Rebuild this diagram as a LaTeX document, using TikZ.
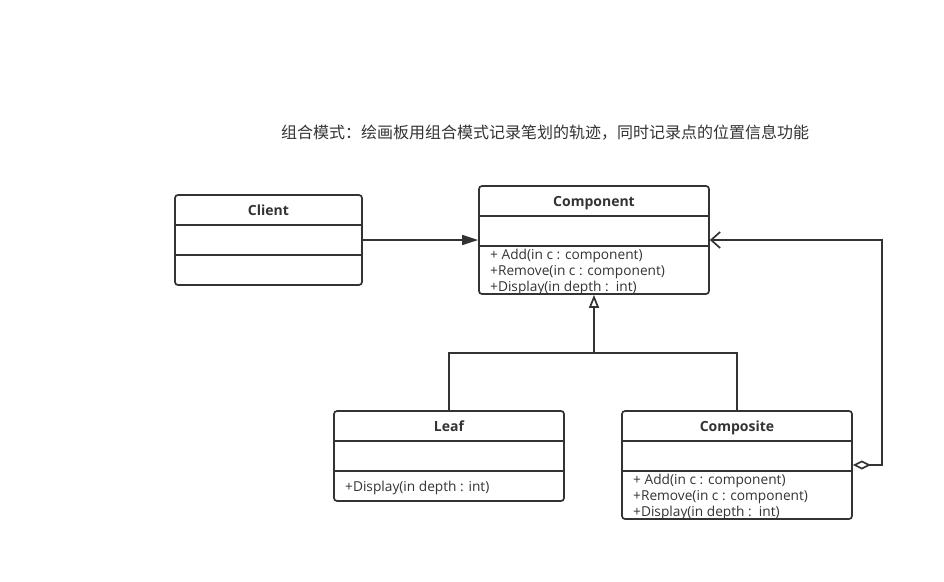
\documentclass[tikz,border=0pt]{standalone}
\usepackage{fontspec}
\setmainfont{Open Sans}
\newfontfamily\cjk{Noto Sans CJK SC}
\usepackage{xcolor}
\usetikzlibrary{arrows.meta}
\definecolor{umlgray}{HTML}{333333}

\tikzset{
  umlbox/.style={draw=umlgray,line width=1.7pt,rounded corners=3pt,inner sep=0pt},
  umlname/.style={anchor=base,font=\fontsize{14}{14}\selectfont\bfseries,text=umlgray,inner sep=0pt},
  umlop/.style={anchor=base west,font=\fontsize{13.7}{14}\selectfont,text=umlgray,inner sep=0pt},
  umlline/.style={draw=umlgray,line width=1.7pt},
}

\begin{document}
\begin{tikzpicture}[x=1pt,y=-1pt]
\useasboundingbox (0,0) rectangle (944,581);
\node[font=\cjk\fontsize{16}{16}\selectfont,text=umlgray] (title) at (545,133) {组合模式：绘画板用组合模式记录笔划的轨迹，同时记录点的位置信息功能};
%% classes
\node[umlbox,minimum width=187pt,minimum height=90pt] (client) at (268.5,240) {};
\node[umlbox,minimum width=230pt,minimum height=108pt] (component) at (594,240) {};
\node[umlbox,minimum width=230pt,minimum height=90pt] (leaf) at (449,456) {};
\node[umlbox,minimum width=230pt,minimum height=108pt] (composite) at (737,465) {};
%%
\node[umlname] at (268.5,215) {Client};
\draw[umlline] (175,225) -- (362,225);
\draw[umlline] (175,255) -- (362,255);
%%
\node[umlname] at (594,206) {Component};
\draw[umlline] (479,216) -- (709,216);
\draw[umlline] (479,246) -- (709,246);
\node[umlop] at (490,259) {+ Add(in c : component)};
\node[umlop] at (490,275) {+Remove(in c : component)};
\node[umlop] at (490,291) {+Display(in depth :\ \ int)};
%%
\node[umlname] at (449,431) {Leaf};
\draw[umlline] (334,441) -- (564,441);
\draw[umlline] (334,471) -- (564,471);
\node[umlop] at (345,491) {+Display(in depth : int)};
%%
\node[umlname] at (737,431) {Composite};
\draw[umlline] (622,441) -- (852,441);
\draw[umlline] (622,471) -- (852,471);
\node[umlop] at (633,484) {+ Add(in c : component)};
\node[umlop] at (633,500) {+Remove(in c : component)};
\node[umlop] at (633,516) {+Display(in depth :\ \ int)};
%% connectors
\coordinate (gen) at (594,353);
\coordinate (aggr) at (882,465);
\draw[umlline,-{Triangle[length=16pt,width=10pt]}] (client.east) -- (component.west);
\draw[umlline] (leaf.north) |- (gen) -| (composite.north);
\draw[umlline,-{Triangle[open,length=13pt,width=10pt]}] (gen) -- (component.south);
\draw[umlline,{Diamond[open,length=18pt,width=9pt]}-{Straight Barb[length=9pt,width=16pt]}] (composite.east) -- (aggr) |- (component.east);
\end{tikzpicture}
\end{document}
